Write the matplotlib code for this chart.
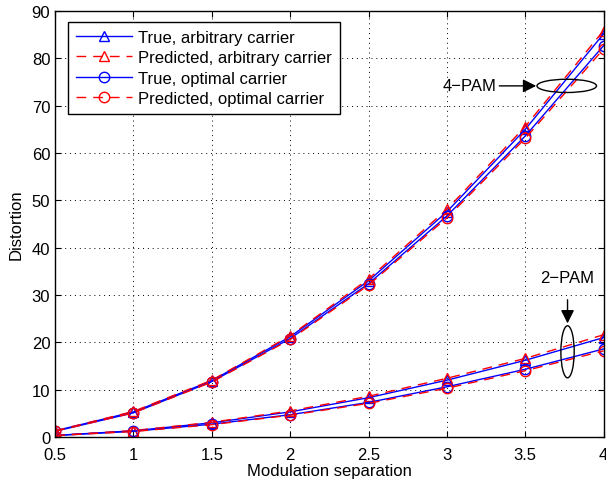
import matplotlib
matplotlib.use("Agg")
import matplotlib.pyplot as plt
from matplotlib.patches import Ellipse

plt.rcParams["font.family"] = ["Liberation Sans", "DejaVu Sans"]
plt.rcParams["font.size"] = 12

separation = [0.5, 1.0, 1.5, 2.0, 2.5, 3.0, 3.5, 4.0]

# 4-PAM
pam4_true_arb = [1.3, 5.3, 11.9, 21.2, 33.0, 47.6, 65.0, 85.2]
pam4_pred_arb = [1.3, 5.4, 12.0, 21.4, 33.4, 48.1, 65.6, 85.9]
pam4_true_opt = [1.2, 5.1, 11.7, 20.8, 32.4, 46.7, 63.6, 82.7]
pam4_pred_opt = [1.2, 5.1, 11.6, 20.6, 32.1, 46.3, 63.1, 82.0]

# 2-PAM
pam2_true_arb = [0.33, 1.3, 3.0, 5.3, 8.3, 12.0, 16.2, 21.0]
pam2_pred_arb = [0.34, 1.35, 3.1, 5.5, 8.6, 12.4, 16.6, 21.6]
pam2_true_opt = [0.30, 1.2, 2.7, 4.7, 7.3, 10.6, 14.3, 18.6]
pam2_pred_opt = [0.29, 1.15, 2.6, 4.6, 7.1, 10.3, 14.0, 18.2]

fig = plt.figure(figsize=(6.06, 4.85), dpi=100)
ax = fig.add_axes([0.091, 0.097, 0.905, 0.878])

ms = 7.5
true_style = dict(color="blue", lw=1.0, ls="-", mfc="none", mew=1.0, ms=ms)
pred_style = dict(color="red", lw=1.0, ls=(0, (7, 5)), mfc="none", mew=1.0, ms=ms)

ax.plot(separation, pam4_true_arb, marker="^", label="True, arbitrary carrier", **true_style)
ax.plot(separation, pam4_pred_arb, marker="^", label="Predicted, arbitrary carrier", **pred_style)
ax.plot(separation, pam4_true_opt, marker="o", label="True, optimal carrier", **true_style)
ax.plot(separation, pam4_pred_opt, marker="o", label="Predicted, optimal carrier", **pred_style)

ax.plot(separation, pam2_true_arb, marker="^", **true_style)
ax.plot(separation, pam2_pred_arb, marker="^", **pred_style)
ax.plot(separation, pam2_true_opt, marker="o", **true_style)
ax.plot(separation, pam2_pred_opt, marker="o", **pred_style)

# group markers
ax.add_patch(Ellipse((3.765, 74.2), 0.38, 2.8, fill=False, ec="black", lw=1.0, zorder=5))
ax.annotate("4\u2212PAM", xy=(3.57, 74.2), xytext=(3.145, 74.2),
            ha="center", va="center", fontsize=12,
            arrowprops=dict(arrowstyle="-|>", color="black", lw=1.0,
                            mutation_scale=20, shrinkA=0, shrinkB=0))
ax.add_patch(Ellipse((3.77, 18.0), 0.085, 11.0, fill=False, ec="black", lw=1.0, zorder=5))
ax.annotate("2\u2212PAM", xy=(3.77, 24.0), xytext=(3.77, 33.8),
            ha="center", va="center", fontsize=12,
            arrowprops=dict(arrowstyle="-|>", color="black", lw=1.0,
                            mutation_scale=20, shrinkA=9, shrinkB=0))

ax.set_xlim(0.5, 4)
ax.set_ylim(0, 90)
ax.set_xticks(separation)
ax.set_xticklabels(["0.5", "1", "1.5", "2", "2.5", "3", "3.5", "4"])
ax.set_yticks(range(0, 91, 10))
ax.grid(True, color="black", ls=(0, (1, 4)), lw=0.7)
ax.tick_params(direction="in", top=True, right=True, labelsize=12, length=4)
ax.tick_params(axis="x", pad=7)
for spine in ax.spines.values():
    spine.set_linewidth(1.0)

ax.set_xlabel("Modulation separation", fontsize=12, labelpad=1)
ax.set_ylabel("Distortion", fontsize=12, labelpad=6)

leg = ax.legend(loc="upper left", bbox_to_anchor=(0.024, 0.974), borderaxespad=0,
                fontsize=12, handlelength=3.4, fancybox=False, edgecolor="black",
                framealpha=1, borderpad=0.45, labelspacing=0.33, handletextpad=0.35)
leg.get_frame().set_linewidth(1.0)

fig.savefig("out.png", dpi=100, facecolor="white")
